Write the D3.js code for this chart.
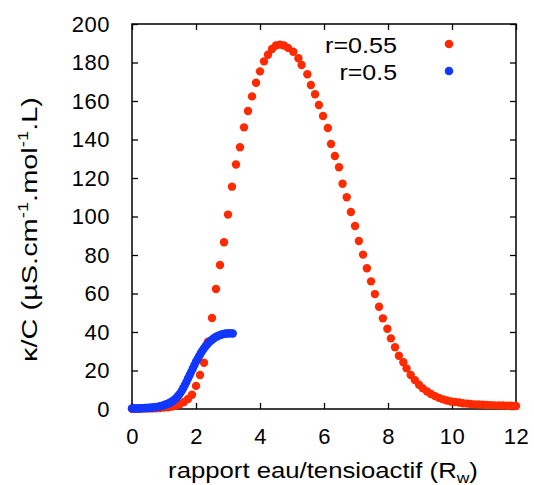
<!DOCTYPE html>
<html>
<head>
<meta charset="utf-8">
<script src="https://cdn.jsdelivr.net/npm/d3@7"></script>
<style>
  html, body { margin: 0; padding: 0; background: #fff; }
  text { font-family: "Liberation Sans", Arial, Helvetica, sans-serif; fill: #000; }
</style>
</head>
<body>
<svg id="chart" width="534" height="485"></svg>
<script>
// ---- data ----
const redX = [0.0,0.125,0.25,0.375,0.5,0.625,0.75,0.875,1.0,1.125,1.25,1.375,1.5,1.625,1.75,1.875,
  2.0,2.125,2.25,2.375,2.5,2.625,2.75,2.875,3.0,3.125,3.25,3.375,3.5,3.625,3.75,3.875,
  4.0,4.125,4.25,4.375,4.5,4.625,4.75,4.875,5.04,5.20,5.30,5.48,5.59,5.72,5.84,5.97,
  6.12,6.22,6.34,6.47,6.58,6.71,6.84,6.97,7.09,7.22,7.34,7.47,7.59,7.72,7.84,7.98,
  8.09,8.22,8.34,8.48,8.58,8.71,8.84,8.97,9.09,9.22,9.34,9.47,9.59,9.72,9.84,9.97,
  10.09,10.22,10.34,10.47,10.59,10.72,10.84,10.97,11.09,11.22,11.34,11.47,11.59,11.72,11.84,11.97,12.0];
const redY = [0.1,0.1,0.1,0.2,0.2,0.3,0.4,0.5,0.7,0.9,1.3,1.8,2.6,3.6,5.2,7.4,
  12.0,17.7,24.0,35.0,47.3,62.3,74.8,86.6,101.0,115.5,127.0,136.0,146.3,154.8,162.4,169.5,
  175.4,180.6,184.0,187.0,188.8,189.3,188.8,187.6,185.6,182.2,178.7,173.9,168.3,163.5,157.9,152.2,
  146.0,137.7,131.4,125.6,117.0,110.0,102.3,95.1,87.3,80.2,73.1,66.3,59.7,53.1,47.1,41.7,
  36.7,32.1,27.7,24.3,21.1,17.7,15.0,12.6,10.7,9.1,7.8,6.7,5.8,5.0,4.4,3.9,
  3.6,3.4,3.0,2.8,2.6,2.4,2.3,2.2,2.1,2.0,1.9,1.8,1.8,1.7,1.7,1.6,1.6];

const blueX = [0.00,0.05,0.10,0.15,0.20,0.25,0.30,0.35,0.40,0.45,0.50,0.55,0.60,0.65,0.70,0.75,
  0.80,0.85,0.90,0.95,1.00,1.05,1.10,1.15,1.20,1.25,1.30,1.35,1.40,1.45,1.50,1.55,
  1.60,1.65,1.70,1.75,1.80,1.85,1.90,1.95,2.00,2.05,2.10,2.15,2.20,2.25,2.30,2.35,
  2.40,2.45,2.50,2.55,2.60,2.65,2.70,2.75,2.80,2.85,2.90,2.95,3.00,3.05,3.10,3.15];
const blueY = [0.3,0.3,0.3,0.3,0.35,0.4,0.4,0.45,0.5,0.55,0.6,0.65,0.7,0.8,0.9,1.0,
  1.1,1.3,1.5,1.7,2.0,2.3,2.6,3.0,3.4,3.9,4.5,5.2,6.0,7.0,8.0,9.3,
  10.8,12.4,14.0,15.8,17.5,19.3,21.0,22.8,24.5,26.0,27.5,29.0,30.3,31.5,32.6,33.6,
  34.5,35.3,36.0,36.6,37.2,37.7,38.1,38.4,38.7,38.9,39.1,39.2,39.3,39.3,39.3,39.2];

const xTicks = [0,2,4,6,8,10,12];
const yTicks = [0,20,40,60,80,100,120,140,160,180,200];
const seriesNames = ["r=0.55", "r=0.5"];
const seriesColors = ["#ff2a00", "#1238ff"];

// ---- layout ----
const W = 534, H = 485;
const M = {left: 132, right: 18, top: 24, bottom: 76};
const iw = W - M.left - M.right, ih = H - M.top - M.bottom;

const svg = d3.select("#chart");
const g = svg.append("g").attr("transform", `translate(${M.left},${M.top})`);

const x = d3.scaleLinear().domain([0, 12]).range([0, iw]);
const y = d3.scaleLinear().domain([0, 200]).range([ih, 0]);

const fs = 22;
const tick = 6;

// widen a text horizontally (glyphs too) so it spans `target` px centred at (cx, cy), rotated by `rot`
function place(sel, target, cx, cy, rot) {
  sel.attr("x", 0).attr("y", 0).attr("text-anchor", "middle");
  const b = sel.node().getBBox();
  const sx = target / b.width;
  const off = -(b.x + b.width / 2);
  sel.attr("x", off);
  sel.attr("transform", `translate(${cx},${cy}) rotate(${rot}) scale(${sx.toFixed(4)},1)`);
}

// axes with inward ticks
const xb = g.append("g").attr("transform", `translate(0,${ih})`)
  .call(d3.axisBottom(x).tickValues(xTicks).tickFormat(d3.format("d")).tickSizeInner(-tick).tickSizeOuter(0).tickPadding(19));
const xt = g.append("g")
  .call(d3.axisTop(x).tickValues(xTicks).tickFormat("").tickSizeInner(-tick).tickSizeOuter(0));
const yl = g.append("g")
  .call(d3.axisLeft(y).tickValues(yTicks).tickFormat(d3.format("d")).tickSizeInner(-tick).tickSizeOuter(0).tickPadding(22));
const yr = g.append("g").attr("transform", `translate(${iw},0)`)
  .call(d3.axisRight(y).tickValues(yTicks).tickFormat("").tickSizeInner(-tick).tickSizeOuter(0));

[xb, xt, yl, yr].forEach(a => {
  a.select(".domain").remove();
  a.selectAll(".tick line").attr("stroke", "#000").attr("stroke-width", 1.3);
  a.selectAll(".tick text").style("font-size", fs + "px").attr("letter-spacing", 0.5)
    .style("font-family", '"Liberation Sans", Arial, sans-serif').attr("fill", "#000");
});

// frame
g.append("rect").attr("x", 0).attr("y", 0).attr("width", iw).attr("height", ih)
  .attr("fill", "none").attr("stroke", "#000").attr("stroke-width", 1.5);

// series: red first, blue on top
const red = redX.map((v, i) => ({x: v, y: redY[i]}));
const blue = blueX.map((v, i) => ({x: v, y: blueY[i]}));
const r = 4.2;

g.append("g").selectAll("circle").data(red).join("circle")
  .attr("cx", d => x(d.x)).attr("cy", d => y(d.y)).attr("r", r).attr("fill", seriesColors[0]);
g.append("g").selectAll("circle").data(blue).join("circle")
  .attr("cx", d => x(d.x)).attr("cy", d => y(d.y)).attr("r", r).attr("fill", seriesColors[1]);

// legend
const legend = svg.append("g");
const legBase = [53, 79.5];
const legMark = [44, 71];
const legLeft = [325, 339.5];
seriesNames.forEach((nm, i) => {
  const t = legend.append("text").style("font-size", fs + "px").text(nm);
  place(t, 397 - legLeft[i], (397 + legLeft[i]) / 2, legBase[i], 0);
  legend.append("circle").attr("cx", 449).attr("cy", legMark[i]).attr("r", 4.3).attr("fill", seriesColors[i]);
});

// x axis title
const xtl = svg.append("text").style("font-size", fs + "px");
xtl.append("tspan").text("rapport eau/tensioactif (R");
xtl.append("tspan").attr("dy", 5).style("font-size", "15px").text("w");
xtl.append("tspan").attr("dy", -5).text(")");
place(xtl, 310, 323, 478, 0);

// y axis title
const ytl = svg.append("text").style("font-size", fs + "px");
ytl.append("tspan").text("κ/C (µS.cm");
ytl.append("tspan").attr("dy", -9).style("font-size", "14px").text("-1");
ytl.append("tspan").attr("dy", 9).text(".mol");
ytl.append("tspan").attr("dy", -9).style("font-size", "14px").text("-1");
ytl.append("tspan").attr("dy", 9).text(".L)");
place(ytl, 265, 37, 229.5, -90);
</script>
</body>
</html>
